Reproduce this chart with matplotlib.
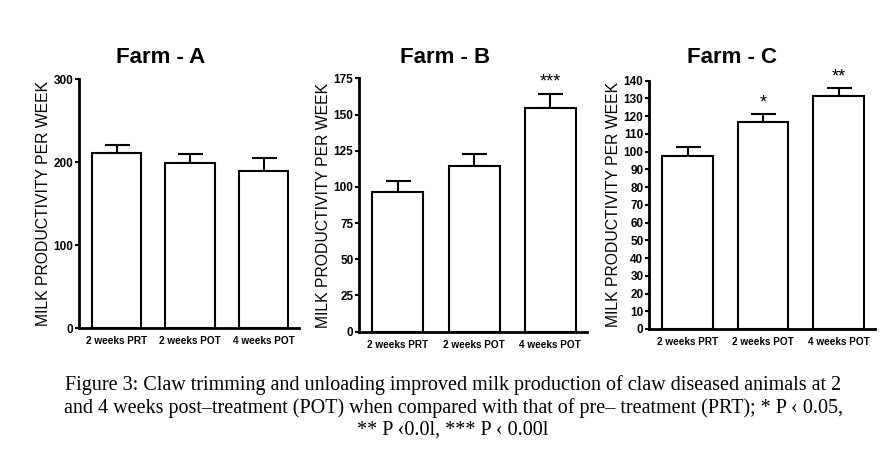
import numpy as np
import matplotlib
matplotlib.use('Agg')
import matplotlib.pyplot as plt

# Data
groups = ['2 weeks PRT', '2 weeks POT', '4 weeks POT']
farm_a = [211, 199, 189]
farm_a_err = [9, 11, 16]
farm_b = [96.3, 114.6, 154.3]
farm_b_err = [7.6, 7.9, 10.1]
farm_c = [97.5, 116.7, 131.2]
farm_c_err = [4.9, 4.5, 4.5]
stars_b = ['', '', '***']
stars_c = ['', '*', '**']

sans = ['Liberation Sans', 'DejaVu Sans']

fig = plt.figure(figsize=(8.9, 4.58), dpi=100)

panels = [
    # title, values, errors, stars, yticks, ymax, axes rect, title x
    ('Farm - A', farm_a, farm_a_err, ['', '', ''], np.arange(0, 301, 100), 300,
     [0.0888, 0.2838, 0.247, 0.5437], 0.180),
    ('Farm - B', farm_b, farm_b_err, stars_b, np.arange(0, 176, 25), 175,
     [0.4034, 0.2758, 0.256, 0.5532], 0.500),
    ('Farm - C', farm_c, farm_c_err, stars_c, np.arange(0, 141, 10), 140,
     [0.7292, 0.2817, 0.254, 0.5421], 0.822),
]

for title, vals, errs, stars, yt, ymax, rect, tx in panels:
    ax = fig.add_axes(rect)
    x = np.arange(len(groups))
    ax.bar(x, vals, width=0.67, color='white', edgecolor='black', linewidth=1.5, zorder=2)
    ax.errorbar(x, vals, yerr=[np.zeros(len(vals)), errs], fmt='none', ecolor='black',
                elinewidth=1.5, capsize=9, capthick=1.5, zorder=1)
    for xi, v, e, s in zip(x, vals, errs, stars):
        if s:
            ax.text(xi, v + e + ymax * 0.012, s, ha='center', va='bottom',
                    fontsize=13, family=sans)
    ax.set_xlim(-0.51, 2.48)
    ax.set_ylim(0, ymax)
    ax.set_yticks(yt)
    ax.set_yticklabels([str(t) for t in yt], family=sans, fontweight='bold', fontsize=8.5)
    ax.set_xticks(x)
    ax.set_xticklabels(groups, family=sans, fontweight='bold', fontsize=7.2)
    ax.tick_params(axis='x', length=0, pad=6)
    ax.tick_params(axis='y', length=3, width=1.5, pad=1)
    for sp in ['top', 'right']:
        ax.spines[sp].set_visible(False)
    for sp in ['left', 'bottom']:
        ax.spines[sp].set_linewidth(2)
    ax.set_ylabel('MILK PRODUCTIVITY PER WEEK', family=sans, fontsize=11.3, labelpad=2)
    fig.text(tx, 0.874, title, ha='center', va='center', family=sans,
             fontweight='bold', fontsize=16)

caption = ('Figure 3: Claw trimming and unloading improved milk production of claw diseased animals at 2\n'
           'and 4 weeks post\u2013treatment (POT) when compared with that of pre\u2013 treatment (PRT); * P \u2039 0.05,\n'
           '** P \u20390.0l, *** P \u2039 0.00l')
fig.text(0.509, 0.18, caption, ha='center', va='top', family=['Liberation Serif', 'DejaVu Serif'],
         fontsize=14.5, linespacing=1.17)

fig.savefig('out.png', dpi=100)
